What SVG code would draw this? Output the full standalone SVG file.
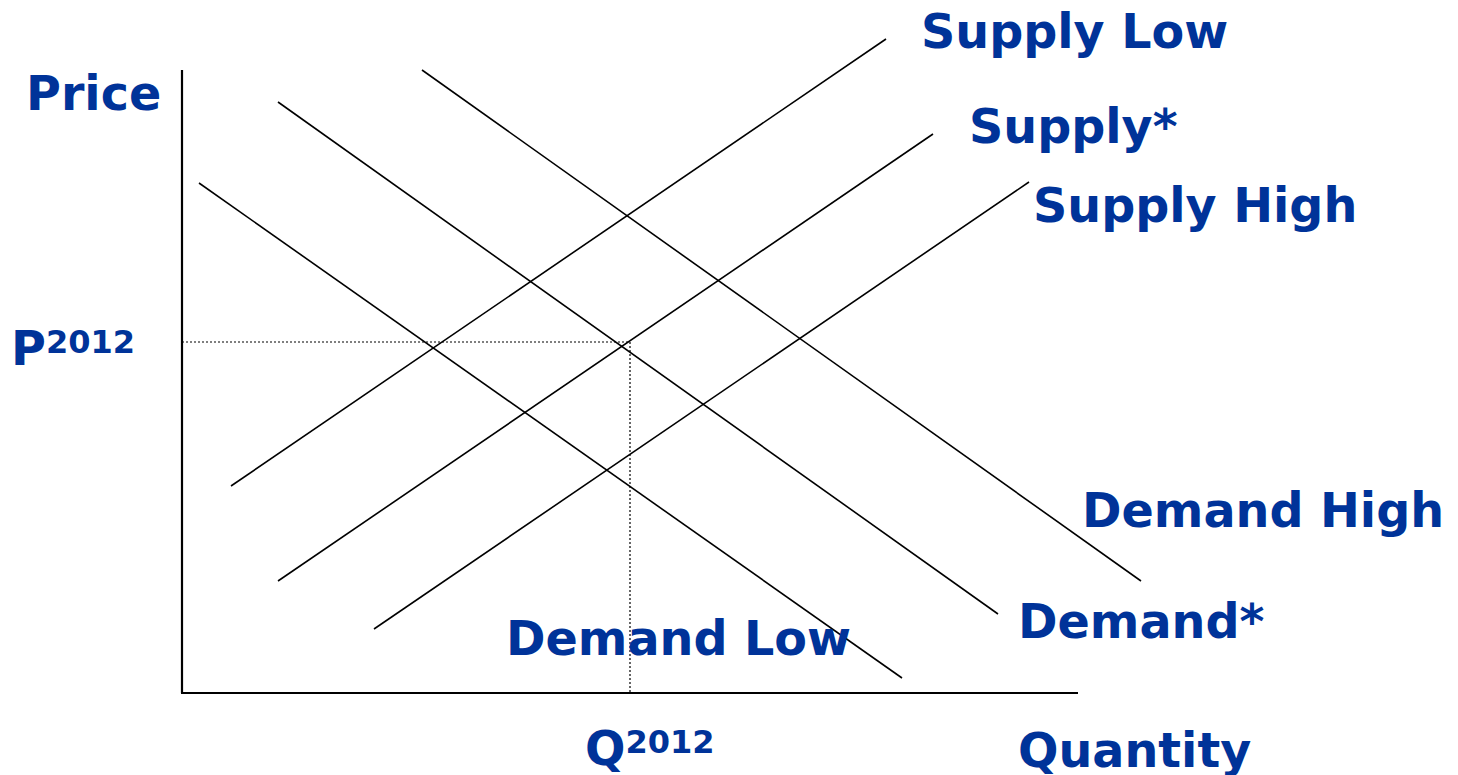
<svg xmlns="http://www.w3.org/2000/svg" width="1458" height="775" viewBox="0 0 1458 775">
<style>
.t{font-family:"DejaVu Sans",Verdana,sans-serif;font-weight:bold;fill:#003399;font-size:47.6px}
.s{font-size:32px}
.c{stroke:#000;stroke-width:1.6;fill:none}
.ax{stroke:#000;stroke-width:2.2;fill:none}
.d{stroke:#000;stroke-width:1.2;stroke-dasharray:2 2;fill:none}
</style>
<rect width="1458" height="775" fill="#fff"/>
<g id="axes">
<line class="ax" x1="182" y1="70" x2="182" y2="693"/>
<line class="ax" x1="181" y1="693" x2="1078" y2="693"/>
</g>
<g id="connectors">
<line class="d" x1="182" y1="342" x2="630" y2="342"/>
<line class="d" x1="630" y1="342" x2="630" y2="693"/>
<line class="c" x1="231" y1="486" x2="886" y2="39"/>
<line class="c" x1="278" y1="581" x2="933" y2="134"/>
<line class="c" x1="374" y1="629" x2="1029" y2="182"/>
<line class="c" x1="199" y1="183" x2="902" y2="678"/>
<line class="c" x1="278" y1="102" x2="998" y2="614"/>
<line class="c" x1="422" y1="70" x2="1141" y2="581"/>
</g>
<g id="price"><text class="t" x="26" y="110">Price</text></g>
<g id="quantity"><text class="t" x="1018" y="767">Quantity</text></g>
<g id="p2012"><text class="t" x="11" y="365">P<tspan class="s" dy="-12">2012</tspan></text></g>
<g id="q2012"><text class="t" x="585" y="765">Q<tspan class="s" dy="-12">2012</tspan></text></g>
<g id="supply-low"><text class="t" x="921" y="48">Supply Low</text></g>
<g id="supply-star"><text class="t" x="969" y="143">Supply*</text></g>
<g id="supply-high"><text class="t" x="1033" y="222">Supply High</text></g>
<g id="demand-high"><text class="t" x="1082" y="527">Demand High</text></g>
<g id="demand-star"><text class="t" x="1018" y="638">Demand*</text></g>
<g id="demand-low"><text class="t" x="506" y="655">Demand Low</text></g>
</svg>
